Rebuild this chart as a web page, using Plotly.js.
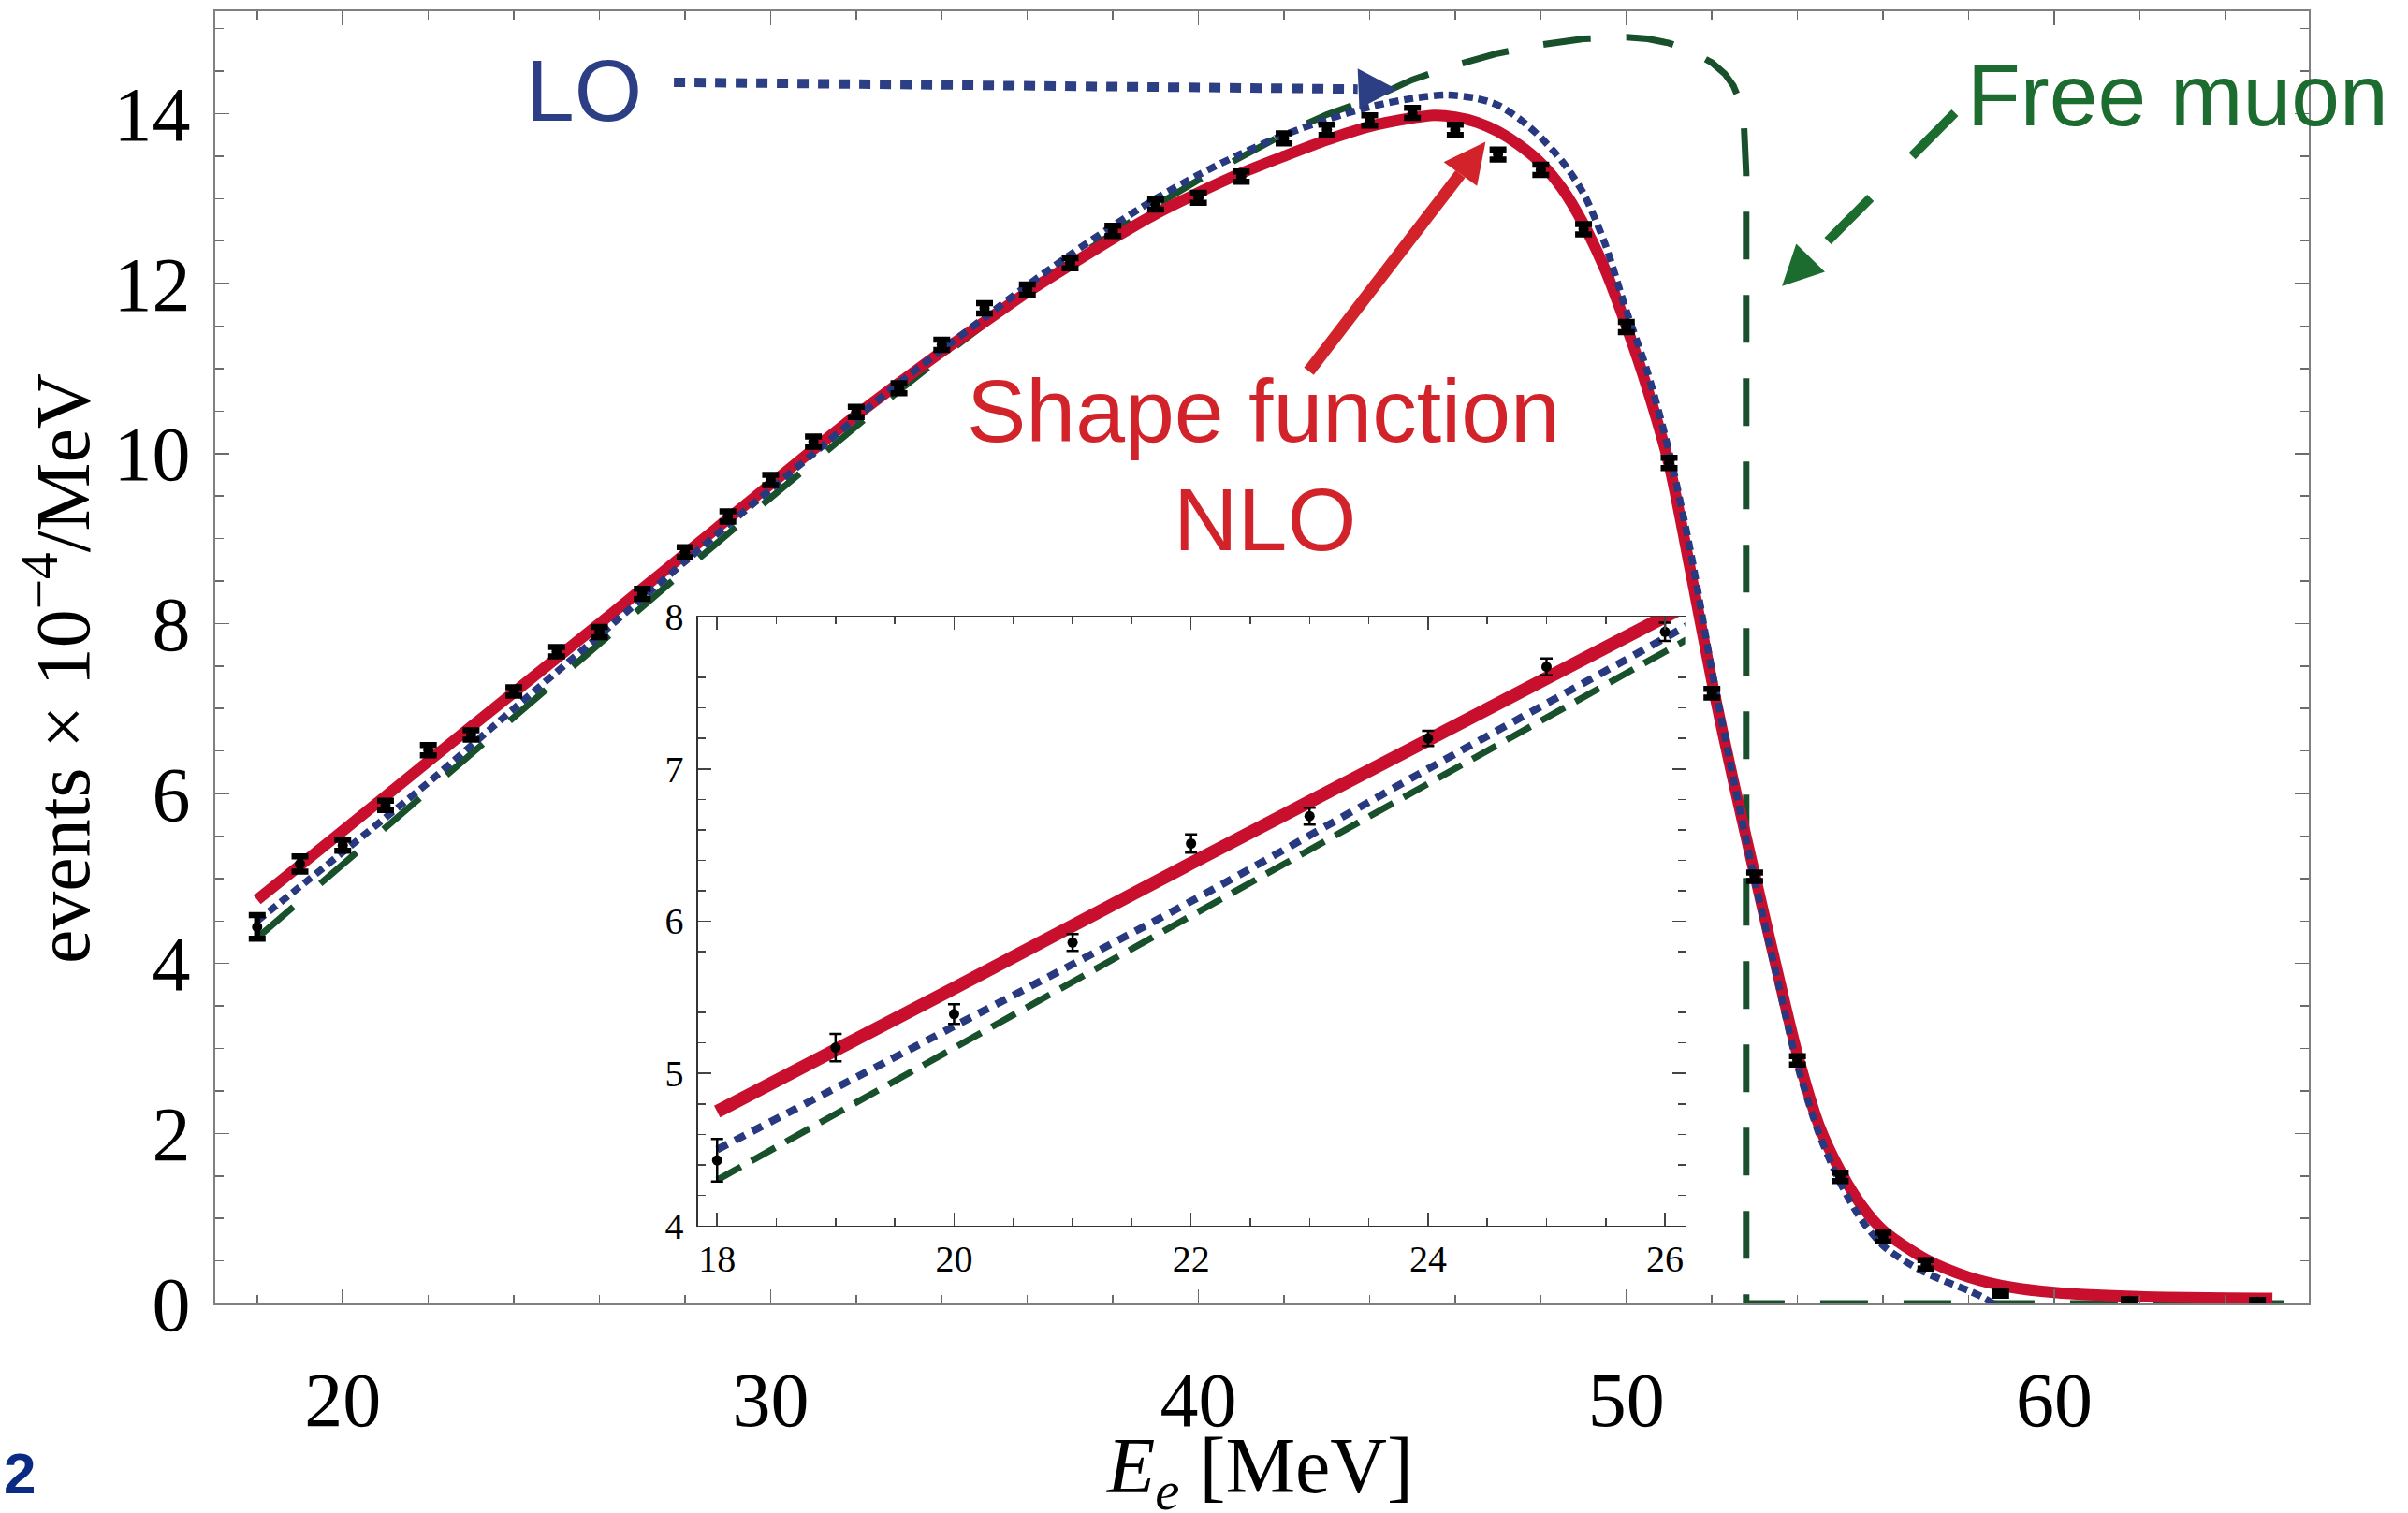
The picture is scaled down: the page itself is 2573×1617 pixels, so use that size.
<!DOCTYPE html>
<html>
<head>
<meta charset="utf-8">
<script src="https://cdn.plot.ly/plotly-3.0.1.min.js"></script>
<style>
html,body{margin:0;padding:0;background:#ffffff;}
#chart{width:2573px;height:1617px;}
</style>
</head>
<body>
<div id="chart"></div>
<script>
// ---- Measured data points (events x 1e-4 / MeV) ----
const E_data = [18,19,20,21,22,23,24,25,26,27,28,29,30,31,32,33,34,35,36,37,38,39,40,41,42,43,44,45,46,47,48,49,50,51,52,53,54,55,56,57,58.75,61.75,64.75];
const N_data = [4.43,5.17,5.39,5.86,6.51,6.69,7.20,7.67,7.90,8.35,8.84,9.26,9.69,10.14,10.49,10.77,11.28,11.71,11.93,12.24,12.62,12.93,13.01,13.26,13.71,13.81,13.92,14.01,13.81,13.52,13.34,12.64,11.49,9.89,7.18,5.02,2.86,1.49,0.78,0.46,0.12,0.03,0.02];
const N_err  = [0.14,0.09,0.065,0.055,0.06,0.055,0.05,0.055,0.06,0.06,0.06,0.06,0.06,0.06,0.06,0.06,0.06,0.06,0.06,0.06,0.06,0.06,0.06,0.06,0.06,0.06,0.06,0.06,0.06,0.06,0.06,0.06,0.06,0.06,0.05,0.05,0.05,0.05,0.05,0.05,0.03,0.02,0.02];

// ---- Shape function NLO (red, solid) ----
const E_nlo = [18,20,22,24,26,27,28,29,30,31,32,33,34,35,36,37,38,39,40,41,42,43,44,45,45.5,46,46.5,47,47.5,48,48.5,49,49.5,50,50.5,51,51.5,52,52.5,53,53.5,54,54.5,55,55.5,56,57,58,59,60,62,65.1];
const Y_nlo = [4.75,5.56,6.38,7.19,8.00,8.41,8.82,9.23,9.64,10.05,10.45,10.83,11.20,11.55,11.90,12.22,12.53,12.82,13.07,13.30,13.50,13.69,13.85,13.95,13.98,13.96,13.90,13.79,13.63,13.42,13.12,12.70,12.17,11.50,10.75,9.87,8.62,7.32,6.15,5.05,3.97,2.93,2.10,1.56,1.15,0.86,0.52,0.31,0.19,0.13,0.08,0.06];

// ---- LO (blue, dotted) ----
const E_lo = [18,20,22,24,26,27,28,29,30,31,32,33,34,35,36,37,38,39,40,41,42,43,44,45,45.8,46.5,47,47.5,48,48.5,49,49.5,50,50.5,51,51.5,52,52.5,53,53.5,54,54.5,55,55.5,56,56.5,57,57.5,58,58.3,58.7];
const Y_lo = [4.50,5.31,6.13,7.00,7.86,8.30,8.73,9.16,9.58,10.00,10.42,10.83,11.22,11.60,11.98,12.34,12.68,13.00,13.28,13.53,13.75,13.93,14.08,14.18,14.22,14.18,14.10,13.94,13.72,13.44,13.06,12.47,11.68,10.95,10.02,8.85,7.45,6.18,4.98,3.88,2.80,2.00,1.42,0.98,0.68,0.50,0.36,0.25,0.15,0.08,-0.04];

// ---- Free muon (green, dashed) ----
const E_free = [18,20,22,24,26,28,30,32,33,34,35,36,37,38,39,40,41,42,43,44,45,46,47,48,49,50,50.5,51,51.5,52,52.3,52.5,52.65,52.75,52.8,52.8,65.95];
const Y_free = [4.30,5.17,6.04,6.91,7.77,8.63,9.48,10.33,10.74,11.14,11.53,11.90,12.26,12.60,12.92,13.22,13.50,13.76,13.99,14.17,14.40,14.57,14.71,14.81,14.88,14.90,14.88,14.83,14.74,14.60,14.47,14.33,14.15,13.85,13.30,0,0];

// ---- Axis ticks ----
const mainXTicks = [20,30,40,50,60];
const mainYTicks = [0,2,4,6,8,10,12,14];
const insetXTicks = [18,20,22,24,26];
const insetYTicks = [4,5,6,7,8];

const RED = '#C8102E', BLUE = '#28397F', GREEN = '#17502A';
const ANN_RED = '#D2232A', ANN_BLUE = '#2D3F84', ANN_GREEN = '#1C6B2F';
const SERIF = 'Liberation Serif', SANS = 'Liberation Sans';

const traces = [
  {x:E_free, y:Y_free, mode:'lines', xaxis:'x', yaxis:'y', hoverinfo:'skip',
   line:{color:GREEN, width:7, dash:'51px,38px'}},
  {x:E_nlo, y:Y_nlo, mode:'lines', xaxis:'x', yaxis:'y', hoverinfo:'skip',
   line:{color:RED, width:12, shape:'spline', smoothing:0.8}},
  {x:E_lo, y:Y_lo, mode:'lines', xaxis:'x', yaxis:'y', hoverinfo:'skip',
   line:{color:BLUE, width:7.5, dash:'10px,6px', shape:'spline', smoothing:0.8}},
  {x:E_data, y:N_data, mode:'markers', xaxis:'x', yaxis:'y',
   marker:{color:'#000', size:11},
   error_y:{type:'data', array:N_err, visible:true, color:'#000', thickness:6.5, width:9}},
  // inset
  {x:E_free, y:Y_free, mode:'lines', xaxis:'x2', yaxis:'y2', hoverinfo:'skip',
   line:{color:GREEN, width:7, dash:'29px,13px'}},
  {x:E_nlo, y:Y_nlo, mode:'lines', xaxis:'x2', yaxis:'y2', hoverinfo:'skip',
   line:{color:RED, width:14, shape:'spline', smoothing:0.8}},
  {x:E_lo, y:Y_lo, mode:'lines', xaxis:'x2', yaxis:'y2', hoverinfo:'skip',
   line:{color:BLUE, width:8, dash:'12px,9px', shape:'spline', smoothing:0.8}},
  {x:E_data, y:N_data, mode:'markers', xaxis:'x2', yaxis:'y2',
   marker:{color:'#000', size:11},
   error_y:{type:'data', array:N_err, visible:true, color:'#000', thickness:2.5, width:6.5}}
];

function axisBase(opts){
  return Object.assign({
    ticks:'inside', showline:true, mirror:'allticks', showgrid:false, zeroline:false,
    tickmode:'array', fixedrange:true
  }, opts);
}

const layout = {
  width:2573, height:1617,
  margin:{l:0, r:0, t:0, b:0},
  paper_bgcolor:'#ffffff', plot_bgcolor:'#ffffff',
  showlegend:false,
  font:{family:SERIF, color:'#000'},
  xaxis: axisBase({
    domain:[0.08939, 0.95880], anchor:'y', range:[17.02, 65.95],
    tickvals:mainXTicks, ticktext:mainXTicks.map(String),
    ticklen:15, tickwidth:1.5, tickcolor:'#6b6b6b', linecolor:'#808080', linewidth:2,
    tickfont:{family:SERIF, size:82, color:'#000'}, ticklabelstandoff:31,
    minor:{tick0:0, dtick:2, ticks:'inside', ticklen:9, tickwidth:1.5, tickcolor:'#6b6b6b', showgrid:false}
  }),
  yaxis: axisBase({
    domain:[0.13853, 0.99227], anchor:'x', range:[0, 15.2],
    tickvals:mainYTicks, ticktext:mainYTicks.map(String),
    ticklen:15, tickwidth:1.5, tickcolor:'#6b6b6b', linecolor:'#808080', linewidth:2,
    tickfont:{family:SERIF, size:82, color:'#000'}, ticklabelstandoff:8,
    minor:{tick0:0, dtick:0.5, ticks:'inside', ticklen:9, tickwidth:1.5, tickcolor:'#6b6b6b', showgrid:false}
  }),
  xaxis2: axisBase({
    domain:[0.28993, 0.69981], anchor:'y2', range:[17.84, 26.17],
    tickvals:insetXTicks, ticktext:insetXTicks.map(String),
    ticklen:14, tickwidth:1.5, tickcolor:'#444', linecolor:'#333', linewidth:1.5,
    tickfont:{family:SERIF, size:40, color:'#000'}, ticklabelstandoff:0,
    minor:{tick0:0, dtick:0.5, ticks:'inside', ticklen:8, tickwidth:1.5, tickcolor:'#444', showgrid:false}
  }),
  yaxis2: axisBase({
    domain:[0.18986, 0.59245], anchor:'x2', range:[4, 8],
    tickvals:insetYTicks, ticktext:insetYTicks.map(String),
    ticklen:14, tickwidth:1.5, tickcolor:'#444', linecolor:'#333', linewidth:1.5,
    tickfont:{family:SERIF, size:40, color:'#000'}, ticklabelstandoff:6,
    minor:{tick0:0, dtick:0.2, ticks:'inside', ticklen:8, tickwidth:1.5, tickcolor:'#444', showgrid:false}
  }),
  shapes:[
    // LO dotted arrow
    {type:'line', xref:'x', yref:'y', x0:27.74, y0:14.37, x1:43.72, y1:14.29,
     line:{color:ANN_BLUE, width:10, dash:'12px,10px'}},
    {type:'path', xref:'x', yref:'y', path:'M 43.72 14.53 L 44.63 14.29 L 43.76 14.06 Z',
     fillcolor:ANN_BLUE, line:{width:0}},
    // Shape function NLO arrow
    {type:'line', xref:'x', yref:'y', x0:42.58, y0:10.97, x1:46.12, y1:13.29,
     line:{color:ANN_RED, width:13}},
    {type:'path', xref:'x', yref:'y', path:'M 45.73 13.43 L 46.71 13.67 L 46.51 13.15 Z',
     fillcolor:ANN_RED, line:{width:0}},
    // Free muon dashed arrow
    {type:'line', xref:'x', yref:'y', x0:57.68, y0:14.01, x1:54.31, y1:12.30,
     line:{color:ANN_GREEN, width:10, dash:'65px,63px'}},
    {type:'path', xref:'x', yref:'y', path:'M 53.97 12.47 L 54.64 12.14 L 53.64 11.97 Z',
     fillcolor:ANN_GREEN, line:{width:0}}
  ],
  annotations:[
    {xref:'x', yref:'y', x:25.64, y:14.27, text:'LO', showarrow:false, xanchor:'center', yanchor:'middle',
     font:{family:SANS, size:93, color:ANN_BLUE}},
    {xref:'x', yref:'y', x:41.51, y:10.50, text:'Shape function', showarrow:false, xanchor:'center', yanchor:'middle',
     font:{family:SANS, size:95, color:ANN_RED}},
    {xref:'x', yref:'y', x:41.55, y:9.23, text:'NLO', showarrow:false, xanchor:'center', yanchor:'middle',
     font:{family:SANS, size:95, color:ANN_RED}},
    {xref:'x', yref:'y', x:62.89, y:14.22, text:'Free muon', showarrow:false, xanchor:'center', yanchor:'middle',
     font:{family:SANS, size:93, color:ANN_GREEN}},
    {xref:'paper', yref:'paper', x:0.5231, y:0.0275, text:'<i>E</i><sub><i>e</i></sub> [MeV]', showarrow:false,
     xanchor:'center', yanchor:'middle', font:{family:SERIF, size:84, color:'#000'}},
    {xref:'paper', yref:'paper', x:0.0237, y:0.5584, text:'events × 10<sup>−4</sup>/MeV', showarrow:false,
     textangle:-90, xanchor:'center', yanchor:'middle', font:{family:SERIF, size:82, color:'#000'}},
    {xref:'paper', yref:'paper', x:0.0008, y:0.0263, text:'<b>2</b>', showarrow:false,
     xanchor:'left', yanchor:'middle', font:{family:SANS, size:62, color:'#0B2A84'}}
  ]
};

Plotly.newPlot('chart', traces, layout, {staticPlot:true, displayModeBar:false});
</script>
</body>
</html>
